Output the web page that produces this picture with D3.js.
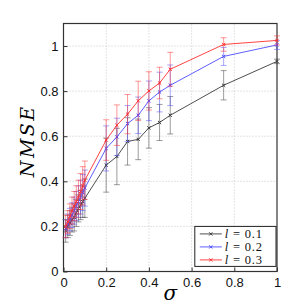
<!DOCTYPE html>
<html>
<head>
<meta charset="utf-8">
<script src="https://cdn.jsdelivr.net/npm/d3@7"></script>
<style>
  body { margin: 0; background: #fff; }
  svg { display: block; }
</style>
</head>
<body>
<script>
// Data
const sigma = [0.01, 0.02, 0.03, 0.04, 0.05, 0.06, 0.07, 0.08, 0.09, 0.1, 0.2, 0.25, 0.3, 0.35, 0.4, 0.45, 0.5, 0.75, 1];
const nmse01 = [0.18, 0.20, 0.215, 0.23, 0.24, 0.26, 0.28, 0.295, 0.31, 0.325, 0.472, 0.51, 0.577, 0.586, 0.637, 0.661, 0.693, 0.826, 0.932];
const err01 = [0.05, 0.05, 0.055, 0.055, 0.06, 0.06, 0.06, 0.065, 0.07, 0.085, 0.12, 0.125, 0.105, 0.09, 0.09, 0.08, 0.083, 0.065, 0.01];
const nmse02 = [0.19, 0.21, 0.23, 0.25, 0.27, 0.29, 0.31, 0.33, 0.35, 0.37, 0.546, 0.597, 0.656, 0.693, 0.757, 0.796, 0.826, 0.954, 1.005];
const err02 = [0.04, 0.045, 0.05, 0.055, 0.06, 0.065, 0.07, 0.075, 0.08, 0.08, 0.1, 0.083, 0.08, 0.081, 0.088, 0.088, 0.09, 0.04, 0.02];
const nmse03 = [0.2, 0.22, 0.245, 0.27, 0.29, 0.31, 0.33, 0.355, 0.38, 0.405, 0.583, 0.649, 0.698, 0.757, 0.801, 0.836, 0.897, 1.007, 1.025];
const err03 = [0.05, 0.05, 0.055, 0.06, 0.065, 0.07, 0.075, 0.08, 0.085, 0.085, 0.09, 0.09, 0.087, 0.087, 0.085, 0.07, 0.075, 0.03, 0.02];
const labels = ["0.1", "0.2", "0.3"];
const colors = ["#3c3c3c", "#4d4dff", "#ff3030"];
const xTicks = [0, 0.2, 0.4, 0.6, 0.8, 1];
const yTicks = [0, 0.2, 0.4, 0.6, 0.8, 1];

const width = 305, height = 305;
const marginLeft = 63.5, marginRight = 28, marginTop = 23.5, marginBottom = 33.5;

const x = d3.scaleLinear().domain([0, 1]).range([marginLeft, width - marginRight]);
const y = d3.scaleLinear().domain([0, 1.1]).range([height - marginBottom, marginTop]);

const svg = d3.select("body").append("svg")
  .attr("width", width)
  .attr("height", height)
  .attr("viewBox", [0, 0, width, height]);

// grid
svg.append("g").selectAll("line").data(xTicks.slice(1, -1)).join("line")
  .attr("x1", d => x(d)).attr("x2", d => x(d))
  .attr("y1", y(0)).attr("y2", y(1.1))
  .attr("stroke", "#bbb").attr("stroke-width", 0.8).attr("stroke-dasharray", "1,2");
svg.append("g").selectAll("line").data(yTicks.slice(1)).join("line")
  .attr("x1", x(0)).attr("x2", x(1))
  .attr("y1", d => y(d)).attr("y2", d => y(d))
  .attr("stroke", "#bbb").attr("stroke-width", 0.8).attr("stroke-dasharray", "1,2");

// axes
const xAxis = svg.append("g")
  .attr("transform", `translate(0,${y(0)})`)
  .call(d3.axisBottom(x).tickValues(xTicks).tickSize(-4).tickPadding(6).tickFormat(d3.format("")));
const yAxis = svg.append("g")
  .attr("transform", `translate(${x(0)},0)`)
  .call(d3.axisLeft(y).tickValues(yTicks).tickSize(-4).tickPadding(5).tickFormat(d3.format("")));
[xAxis, yAxis].forEach(a => {
  a.select(".domain").remove();
  a.selectAll("text").style("font-family", "Liberation Sans, Arial, sans-serif").style("font-size", "13px").attr("fill", "#111");
  a.selectAll(".tick line").attr("stroke", "#333");
});

// frame
svg.append("rect")
  .attr("x", x(0)).attr("y", y(1.1))
  .attr("width", x(1) - x(0)).attr("height", y(0) - y(1.1))
  .attr("fill", "none").attr("stroke", "#333").attr("stroke-width", 1.2);

// series
const series = [
  { v: nmse01, e: err01 },
  { v: nmse02, e: err02 },
  { v: nmse03, e: err03 }
];

const line = d3.line().x(d => x(d[0])).y(d => y(d[1]));

series.forEach((s, i) => {
  const pts = sigma.map((sx, j) => [sx, s.v[j], s.e[j]]);
  const g = svg.append("g");
  // error bars
  g.selectAll(".eb").data(pts).join("line")
    .attr("x1", d => x(d[0])).attr("x2", d => x(d[0]))
    .attr("y1", d => y(d[1] - d[2])).attr("y2", d => y(d[1] + d[2]))
    .attr("stroke", colors[i]).attr("stroke-opacity", 0.5).attr("stroke-width", 1);
  g.selectAll(".cap").data(pts.flatMap(d => [[d[0], d[1] - d[2]], [d[0], d[1] + d[2]]])).join("line")
    .attr("x1", d => x(d[0]) - 3).attr("x2", d => x(d[0]) + 3)
    .attr("y1", d => y(d[1])).attr("y2", d => y(d[1]))
    .attr("stroke", colors[i]).attr("stroke-opacity", 0.5).attr("stroke-width", 1);
  g.append("path")
    .attr("d", line(pts))
    .attr("fill", "none").attr("stroke", colors[i]).attr("stroke-opacity", 0.9).attr("stroke-width", 1);
  g.selectAll(".mk").data(pts).join("path")
    .attr("transform", d => `translate(${x(d[0])},${y(d[1])})`)
    .attr("d", d3.symbol(d3.symbolX, 8))
    .attr("stroke", colors[i]).attr("stroke-width", 1).attr("fill", "none");
});

// legend
const lg = svg.append("g").attr("transform", `translate(${x(0.615)},${y(0.2)})`);
lg.append("rect").attr("width", x(1) - x(0.615) - 1).attr("height", 40)
  .attr("fill", "#fff").attr("stroke", "#222").attr("stroke-width", 1);
labels.forEach((t, i) => {
  const ly = 7.5 + i * 13;
  lg.append("line").attr("x1", 5).attr("x2", 27).attr("y1", ly).attr("y2", ly)
    .attr("stroke", colors[i]).attr("stroke-opacity", 0.9);
  lg.append("path").attr("transform", `translate(16,${ly})`)
    .attr("d", d3.symbol(d3.symbolX, 8)).attr("stroke", colors[i]).attr("fill", "none");
  const tx = lg.append("text").attr("x", 30).attr("y", ly + 4)
    .style("font-family", "Liberation Serif, serif").style("font-size", "12.5px")
    .style("letter-spacing", "0.8px").attr("fill", "#111");
  tx.append("tspan").style("font-style", "italic").text("l");
  tx.append("tspan").text(" = " + t);
});

// axis titles
svg.append("text")
  .attr("x", x(0.5)).attr("y", 300)
  .attr("text-anchor", "middle")
  .style("font-family", "DejaVu Serif, serif").style("font-style", "italic").style("font-size", "20px")
  .text("σ");
svg.append("text")
  .attr("transform", `translate(34,${y(0.58)}) rotate(-90)`)
  .attr("text-anchor", "middle")
  .style("font-family", "DejaVu Serif, serif").style("font-style", "italic").style("font-size", "19px")
  .style("letter-spacing", "2.5px")
  .text("NMSE");
</script>
</body>
</html>
